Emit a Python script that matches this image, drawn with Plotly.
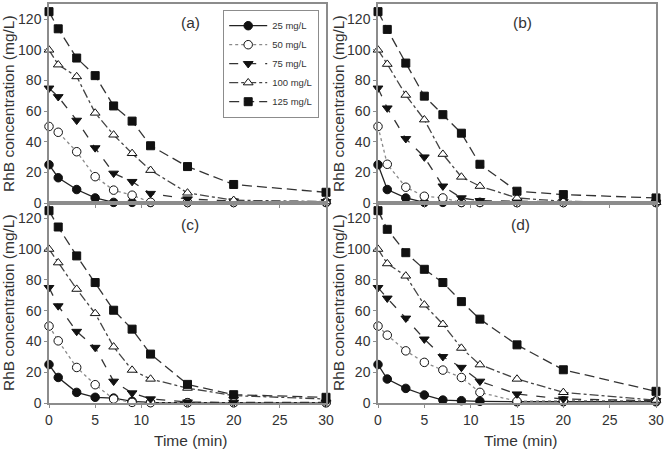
import plotly.graph_objects as go

times = [0, 1, 3, 5, 7, 9, 11, 15, 20, 30]
series_labels = ["25 mg/L", "50 mg/L", "75 mg/L", "100 mg/L", "125 mg/L"]

a25 = [25, 16.5, 8.8, 3.3, 0.4, 0.4, 0.3, 0.3, 0.3, 0.3]
a50 = [50, 46.2, 33.5, 17.2, 8.4, 5.1, 0.5, 0.5, 0.5, 0.5]
a75 = [75, 69.4, 54, 36, 19.4, 14, 6.2, 2.6, 1.3, 0.9]
a100 = [100, 90.3, 82.6, 58.8, 44.5, 32.4, 21.4, 6.6, 1.8, 0.9]
a125 = [125, 113.8, 94.7, 83.2, 63.4, 53.5, 37.4, 23.8, 12.1, 7.0]

b25 = [25, 8.8, 3.3, 0.4, 0.4, 0.3, 0.3, 0.3, 0.3, 0.3]
b50 = [50, 25.3, 10.3, 4.4, 3.3, 0.4, 0.4, 0.3, 0.3, 0.3]
b75 = [75, 62, 42, 30, 11, 3.3, 1.5, 1, 0.8, 0.5]
b100 = [100, 90.7, 70.5, 54.4, 31.9, 17, 11, 3.3, 1.1, 0.4]
b125 = [125, 113.4, 91.4, 69.8, 57.7, 45.6, 25.3, 7.7, 5.5, 3.3]

c25 = [25, 16.6, 6.9, 3.7, 3.2, 1.1, 0.4, 0.2, 0.2, 0.2]
c50 = [50, 40.4, 23.1, 11.9, 2.6, 0.4, 0.2, 0.2, 0.2, 0.2]
c75 = [75, 63.1, 46.5, 36.1, 14.1, 6.5, 2.6, 0.6, 0.4, 0.4]
c100 = [100, 91.2, 74, 58.2, 36.5, 21.4, 15.6, 9.7, 4.8, 2.6]
c125 = [125, 114.4, 95.6, 78.3, 60.3, 48, 31.8, 12.1, 5.4, 3.7]

d25 = [25, 15.6, 9.5, 5.2, 1.9, 1.5, 1.1, 0.8, 0.8, 0.8]
d50 = [50, 44.1, 33.9, 26.4, 21.4, 16.6, 6.9, 1.1, 1.5, 1.5]
d75 = [75, 68.1, 55.1, 41.5, 30.1, 23.1, 14.1, 5.8, 2.6, 1.5]
d100 = [100, 90.6, 82.6, 63.8, 51.2, 35.7, 24.9, 15.6, 6.9, 1.9]
d125 = [125, 112.9, 97.7, 86.9, 78.3, 65.9, 54.5, 37.8, 21.6, 7.6]

panels = [
    ("(a)", "x", "y", [a25, a50, a75, a100, a125]),
    ("(b)", "x2", "y2", [b25, b50, b75, b100, b125]),
    ("(c)", "x3", "y3", [c25, c50, c75, c100, c125]),
    ("(d)", "x4", "y4", [d25, d50, d75, d100, d125]),
]

styles = [
    dict(symbol="circle", fill="#111111", dash="solid", lc="#222222"),
    dict(symbol="circle", fill="white", dash="dot", lc="#8a8a8a"),
    dict(symbol="triangle-down", fill="#111111", dash="dash", lc="#333333"),
    dict(symbol="triangle-up", fill="white", dash="dashdot", lc="#444444"),
    dict(symbol="square", fill="#111111", dash="10px,5px", lc="#333333"),
]

fig = go.Figure()
for pi, (lab, xa, ya, data) in enumerate(panels):
    for si, vals in enumerate(data):
        st = styles[si]
        sym = st["symbol"]
        fig.add_trace(go.Scatter(
            x=times, y=vals, xaxis=xa, yaxis=ya, mode="lines+markers",
            name=series_labels[si], showlegend=(pi == 0), cliponaxis=False,
            line=dict(color=st["lc"], width=1.3, dash=st["dash"]),
            marker=dict(symbol=sym, size=8.5 if sym != "square" else 8,
                        color=st["fill"], line=dict(color="#111111", width=1)),
        ))

xl = [49 / 665, 326 / 665]
xr = [378 / 665, 656 / 665]
yt = [(451 - 203) / 451, (451 - 4) / 451]
yb = [(451 - 403) / 451, (451 - 203) / 451]

tickfont = dict(family="Liberation Sans, Arial, sans-serif", size=14, color="#333333")
axis_common = dict(showline=True, mirror=True, linecolor="#8c8c8c", linewidth=1.5,
                   showgrid=False, zeroline=False, tickfont=tickfont, automargin=False,
                   ticks="outside", ticklen=3, tickcolor="#8c8c8c")

layout = dict(
    width=665, height=451, margin=dict(l=0, r=0, t=0, b=0, autoexpand=False),
    paper_bgcolor="white", plot_bgcolor="white",
    font=dict(family="Liberation Sans, Arial, sans-serif", color="#333333"),
    legend=dict(x=223 / 665, y=(451 - 10) / 451, xanchor="left", yanchor="top",
                bordercolor="#8c8c8c", borderwidth=1.2, bgcolor="white",
                itemwidth=38,
                font=dict(size=9.5, color="#333333"), tracegroupgap=0),
)
for i, (dx, dy, showx) in enumerate([(xl, yt, False), (xr, yt, False), (xl, yb, True), (xr, yb, True)]):
    sfx = "" if i == 0 else str(i + 1)
    layout["xaxis" + sfx] = dict(domain=dx, range=[0, 30], dtick=5, anchor="y" + sfx,
                                 showticklabels=showx, **axis_common)
    layout["yaxis" + sfx] = dict(domain=dy, range=[0, 130], dtick=20, anchor="x" + sfx,
                                 **axis_common)
fig.update_layout(**layout)

ann = []
title_font = dict(family="Liberation Sans, Arial, sans-serif", size=15.5, color="#333333")
for (lab, _, _, _), (cx, cy) in zip(panels, [(190, 22), (522, 22), (190, 224), (520, 224)]):
    ann.append(dict(text=lab, x=cx / 665, y=(451 - cy) / 451, xref="paper", yref="paper",
                    showarrow=False, font=title_font, xanchor="center", yanchor="middle"))
for cx in (8, 338):
    for cy in (104, 303):
        ann.append(dict(text="RhB concentration (mg/L)", x=cx / 665, y=(451 - cy) / 451,
                        xref="paper", yref="paper", showarrow=False, textangle=-90,
                        font=title_font, xanchor="center", yanchor="middle"))
for cx in (190, 520):
    ann.append(dict(text="Time (min)", x=cx / 665, y=(451 - 440) / 451, xref="paper",
                    yref="paper", showarrow=False, font=title_font,
                    xanchor="center", yanchor="middle"))
fig.update_layout(annotations=ann)

fig.write_html("out.html")
